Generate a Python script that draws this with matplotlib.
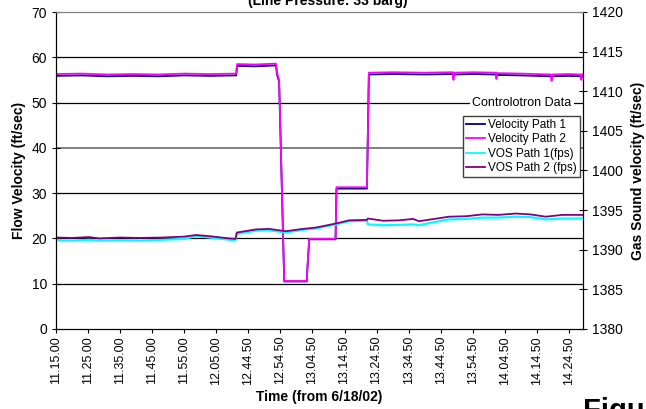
import matplotlib
matplotlib.use("Agg")
import matplotlib.pyplot as plt
from matplotlib.lines import Line2D

plt.rcParams['font.family'] = ['Liberation Sans', 'DejaVu Sans']

# category tick labels (one every 10 min of logged data)
time_labels = ['11.15.00', '11.25.00', '11.35.00', '11.45.00', '11.55.00', '12.05.00',
               '12.44.50', '12.54.50', '13.04.50', '13.14.50', '13.24.50', '13.34.50',
               '13.44.50', '13.54.50', '14.04.50', '14.14.50', '14.24.50']

# flow velocity (ft/sec), x in tick-index units
vel_x = [0, 0.8, 1.6, 2.4, 3.2, 4.0, 4.8, 5.62, 5.65, 6.2, 6.86, 6.90, 6.96, 7.12,
         7.82, 7.86, 7.90, 8.72, 8.75, 9.70, 9.76, 10.5, 11.5, 12.38, 12.40, 12.42,
         13.0, 13.72, 13.74, 13.76, 14.5, 15.44, 15.46, 15.48, 16.0, 16.37, 16.39,
         16.41, 16.44]
vel_path2 = [56.3, 56.4, 56.2, 56.3, 56.2, 56.4, 56.3, 56.4, 58.5, 58.4, 58.6, 56.5,
             55.0, 10.6, 10.6, 15.5, 19.9, 19.9, 31.3, 31.3, 56.6, 56.7, 56.6, 56.7,
             55.0, 56.6, 56.7, 56.6, 55.2, 56.5, 56.4, 56.2, 54.8, 56.2, 56.3, 56.2,
             55.0, 56.2, 56.3]
vel_path1 = [55.9, 56.0, 55.8, 55.9, 55.8, 56.0, 55.9, 56.0, 58.1, 58.0, 58.2, 56.0,
             54.6, 10.5, 10.5, 15.4, 19.8, 19.8, 31.0, 31.0, 56.2, 56.3, 56.2, 56.3,
             55.8, 56.2, 56.3, 56.2, 55.8, 56.1, 56.0, 55.8, 55.5, 55.8, 55.9, 55.8,
             55.5, 55.8, 55.9]

# gas sound velocity (ft/sec)
vos_x = [0, 0.5, 1.03, 1.35, 2.0, 2.6, 3.3, 4.0, 4.37, 4.8, 5.4, 5.6, 5.64, 6.24,
         6.64, 7.17, 7.7, 8.11, 8.73, 9.14, 9.70, 9.73, 10.2, 10.7, 11.14, 11.32,
         11.8, 12.26, 12.8, 13.3, 13.8, 14.35, 14.8, 15.28, 15.8, 16.44]
vos_path2 = [1391.54, 1391.49, 1391.60, 1391.43, 1391.54, 1391.49, 1391.54, 1391.66,
             1391.86, 1391.71, 1391.43, 1391.37, 1392.17, 1392.57, 1392.63, 1392.34,
             1392.63, 1392.80, 1393.31, 1393.71, 1393.77, 1393.94, 1393.66, 1393.71,
             1393.89, 1393.60, 1393.89, 1394.17, 1394.23, 1394.46, 1394.40, 1394.57,
             1394.46, 1394.17, 1394.40, 1394.40]
vos_path1 = [1391.20, 1391.14, 1391.26, 1391.14, 1391.20, 1391.14, 1391.26, 1391.37,
             1391.71, 1391.54, 1391.26, 1391.20, 1392.00, 1392.40, 1392.46, 1392.17,
             1392.51, 1392.69, 1393.20, 1393.60, 1393.66, 1393.20, 1393.09, 1393.14,
             1393.20, 1393.09, 1393.49, 1393.83, 1393.89, 1394.06, 1394.06, 1394.17,
             1394.11, 1393.83, 1393.94, 1393.94]

fig = plt.figure(figsize=(6.46, 4.09), dpi=100)
ax = fig.add_axes([56 / 646, 1 - 329 / 409, (583 - 56) / 646, (329 - 12) / 409])
ax2 = ax.twinx()

# horizontal gridlines
for g in [10, 20, 30, 50, 60]:
    ax.axhline(g, color='black', lw=0.9, zorder=0)
ax.axhline(40, color='#808080', lw=1.4, zorder=0)

ax.plot(vel_x, vel_path1, color='#000080', lw=1.3)
ax.plot(vel_x, vel_path2, color='#ff00ff', lw=1.3)
ax2.plot(vos_x, vos_path1, color='#00ffff', lw=1.6)
ax2.plot(vos_x, vos_path2, color='#800080', lw=1.3)

ax.set_xlim(0, 16.44)
ax.set_ylim(0, 70)
ax2.set_ylim(1380, 1420)
ax.set_xticks(range(len(time_labels)))
ax.set_xticklabels(time_labels, rotation=90, fontsize=9)
ax.set_yticks(range(0, 71, 10))
ax2.set_yticks(range(1380, 1421, 5))
ax.tick_params(axis='y', direction='inout', length=6, labelsize=10)
ax2.tick_params(axis='y', direction='inout', length=6, labelsize=10)
ax.tick_params(axis='x', direction='out', length=3, pad=2)

ax.spines['top'].set_color('#808080')
ax2.spines['top'].set_color('#808080')

ax.set_xlabel('Time (from 6/18/02)', fontsize=10, fontweight='bold')
ax.xaxis.set_label_coords(0.5, (329 - 397) / 317)
ax.xaxis.label.set_va('center')
ax.set_ylabel('Flow Velocity (ft/sec)', fontsize=10, fontweight='bold', labelpad=4)
ax2.set_ylabel('Gas Sound velocity (ft/sec)', fontsize=10, fontweight='bold', labelpad=6)

ax2.text(14.54, 1408.57, 'Controlotron Data', ha='center', va='center', fontsize=9,
         bbox=dict(facecolor='white', edgecolor='none', pad=1.5))

handles = [Line2D([], [], color='#000080', lw=1.3),
           Line2D([], [], color='#ff00ff', lw=1.3),
           Line2D([], [], color='#00ffff', lw=1.3),
           Line2D([], [], color='#800080', lw=1.3)]
labels = ['Velocity Path 1', 'Velocity Path 2', 'VOS Path 1(fps)', 'VOS Path 2 (fps)']
leg = ax2.legend(handles, labels, loc='upper left', bbox_to_anchor=(463 / 646, 1 - 116 / 409),
                 bbox_transform=fig.transFigure, borderaxespad=0, fontsize=8.5,
                 handlelength=1.6, handletextpad=0.3, labelspacing=0.2,
                 borderpad=0.25, fancybox=False, framealpha=1)
leg.get_frame().set_edgecolor('#404040')
leg.get_frame().set_linewidth(1.0)

fig.text(328 / 646, 1 - 1 / 409, '(Line Pressure: 33 barg)', ha='center', va='center',
         fontsize=10, fontweight='bold')
fig.text(583 / 646, -10 / 409, 'Figure', ha='left', va='baseline',
         fontsize=21, fontweight='bold')

fig.savefig('out.png', dpi=100)
